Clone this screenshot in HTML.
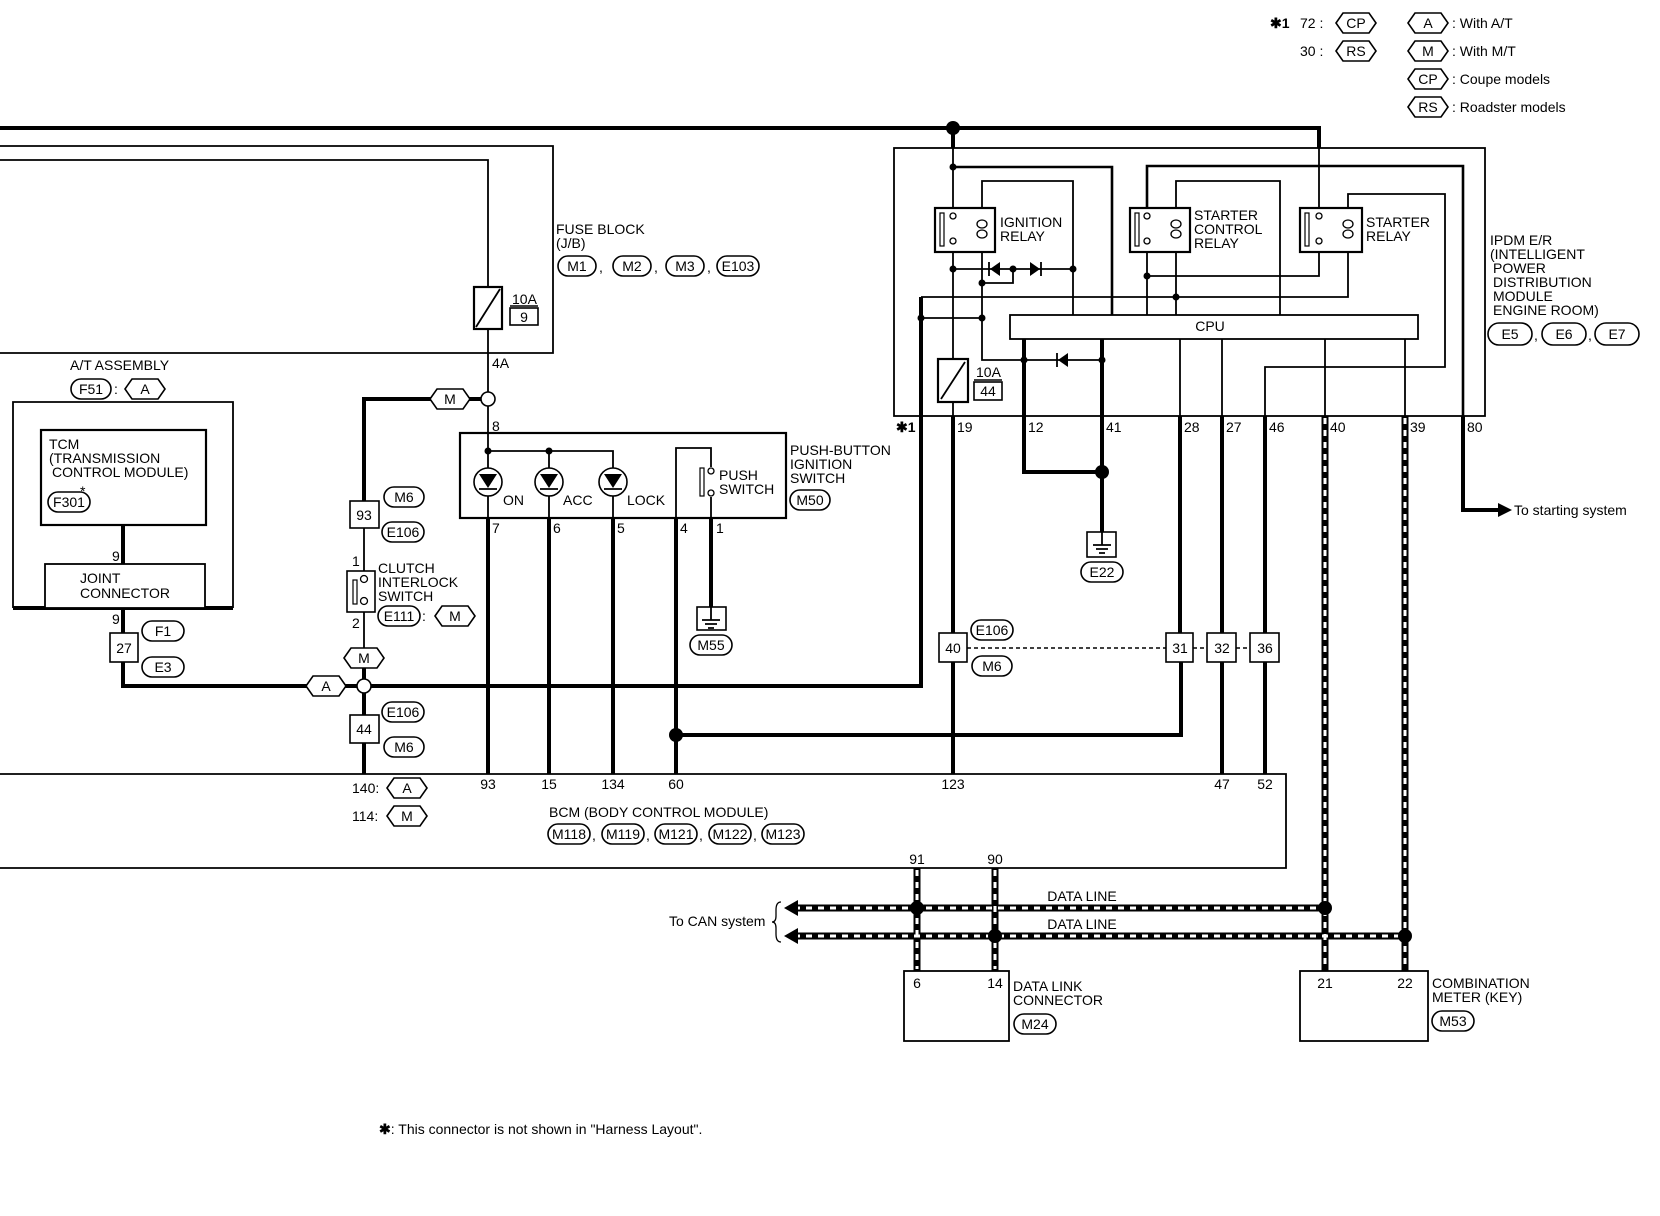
<!DOCTYPE html>
<html><head><meta charset="utf-8"><style>
html,body{margin:0;padding:0;background:#fff;}
svg{display:block;}
text{font-family:"Liberation Sans",sans-serif;font-size:14px;fill:#000;}
.c{text-anchor:middle;dominant-baseline:central;}
.th{stroke:#000;stroke-width:4;fill:none;}
.tm{stroke:#000;stroke-width:2.6;fill:none;}
.tn{stroke:#000;stroke-width:1.8;fill:none;}
.bx{stroke:#000;stroke-width:2.2;fill:#fff;}
.ob{stroke:#000;stroke-width:1.6;fill:#fff;}
.dk{stroke:#000;stroke-width:7;fill:none;}
.dw{stroke:#fff;stroke-width:3;fill:none;stroke-dasharray:6 6;}
</style></head><body>
<svg width="1660" height="1216" viewBox="0 0 1660 1216" xmlns="http://www.w3.org/2000/svg">
<defs>
<g id="hx"><polygon class="ob" points="-20,0 -13,-10 13,-10 20,0 13,10 -13,10"/></g>
</defs>

<!-- Legend -->
<text x="1270" y="28" font-weight="bold">✱1</text>
<text x="1300" y="28">72 :</text>
<g transform="translate(1356,23)"><use href="#hx"/><text class="c">CP</text></g>
<text x="1300" y="56">30 :</text>
<g transform="translate(1356,51)"><use href="#hx"/><text class="c">RS</text></g>
<g transform="translate(1428,23)"><use href="#hx"/><text class="c">A</text></g><text x="1452" y="28">: With A/T</text>
<g transform="translate(1428,51)"><use href="#hx"/><text class="c">M</text></g><text x="1452" y="56">: With M/T</text>
<g transform="translate(1428,79)"><use href="#hx"/><text class="c">CP</text></g><text x="1452" y="84">: Coupe models</text>
<g transform="translate(1428,107)"><use href="#hx"/><text class="c">RS</text></g><text x="1452" y="112">: Roadster models</text>

<!-- top thick line -->
<path class="th" d="M0,128 H1319 V148"/>
<circle cx="953" cy="128" r="7"/>
<path class="th" d="M953,128 V148"/>

<!-- Fuse block -->
<path class="tn" d="M0,146 H553 V353 H0"/>
<path class="tn" d="M0,160 H488 V287 M488,329 V392"/>
<rect x="474" y="287" width="28" height="42" class="bx"/>
<line x1="476" y1="327" x2="500" y2="289" stroke="#000" stroke-width="1.8"/>
<text x="512" y="304">10A</text>
<line x1="510" y1="306" x2="538" y2="306" stroke="#000" stroke-width="1.5"/>
<rect x="510" y="308" width="28" height="17" class="ob"/><text x="524" y="317" class="c">9</text>
<text x="556" y="234">FUSE BLOCK</text><text x="556" y="248">(J/B)</text>
<rect x="558" y="256" width="38" height="20" rx="10" class="ob"/><text x="577" y="266" class="c">M1</text>
<text x="599" y="272">,</text>
<rect x="613" y="256" width="38" height="20" rx="10" class="ob"/><text x="632" y="266" class="c">M2</text>
<text x="654" y="272">,</text>
<rect x="666" y="256" width="38" height="20" rx="10" class="ob"/><text x="685" y="266" class="c">M3</text>
<text x="707" y="272">,</text>
<rect x="717" y="256" width="42" height="20" rx="10" class="ob"/><text x="738" y="266" class="c">E103</text>
<text x="492" y="368">4A</text>

<!-- A/T assembly -->
<text x="70" y="370">A/T ASSEMBLY</text>
<rect x="71" y="379" width="40" height="20" rx="10" class="ob"/><text x="91" y="389" class="c">F51</text>
<text x="114" y="394">:</text>
<g transform="translate(145,389)"><use href="#hx"/><text class="c">A</text></g>
<path class="tn" d="M13,608 V402 H233 V608"/>
<path class="th" d="M13,608 H233"/>
<rect x="41" y="430" width="165" height="95" class="bx"/>
<text x="49" y="449">TCM</text><text x="49" y="463">(TRANSMISSION</text><text x="52" y="477">CONTROL MODULE)</text>
<text x="80" y="496" font-size="16">*</text>
<rect x="48" y="492" width="42" height="20" rx="10" class="ob"/><text x="69" y="502" class="c">F301</text>
<path class="th" d="M123,525 V564"/>
<text x="112" y="561">9</text>
<rect x="45" y="564" width="160" height="44" class="bx" style="stroke-width:1.8"/>
<text x="80" y="583">JOINT</text><text x="80" y="598">CONNECTOR</text>
<path class="th" d="M123,608 V686 H330"/>
<text x="112" y="624">9</text>
<rect x="110" y="633" width="28" height="29" class="ob"/><text x="124" y="648" class="c">27</text>
<rect x="142" y="621" width="42" height="20" rx="10" class="ob"/><text x="163" y="631" class="c">F1</text>
<rect x="142" y="657" width="42" height="20" rx="10" class="ob"/><text x="163" y="667" class="c">E3</text>

<!-- clutch line -->
<path class="th" d="M488,399 H364 V501"/>
<g transform="translate(450,399)"><use href="#hx"/><text class="c">M</text></g>
<circle cx="488" cy="399" r="7" class="ob"/>
<path class="tn" d="M364,528 V571 M364,612 V648"/>
<rect x="350" y="501" width="29" height="27" class="ob"/><text x="364" y="515" class="c">93</text>
<rect x="384" y="487" width="40" height="20" rx="10" class="ob"/><text x="404" y="497" class="c">M6</text>
<rect x="382" y="522" width="42" height="20" rx="10" class="ob"/><text x="403" y="532" class="c">E106</text>
<text x="352" y="566">1</text><text x="352" y="628">2</text>
<rect x="347" y="571" width="28" height="41" class="ob"/>
<rect x="353" y="580" width="4" height="24" class="ob" style="stroke-width:1.2"/>
<circle cx="364" cy="579" r="3.5" class="ob" style="stroke-width:1.3"/>
<circle cx="364" cy="601" r="3.5" class="ob" style="stroke-width:1.3"/>
<text x="378" y="573">CLUTCH</text><text x="378" y="587">INTERLOCK</text><text x="378" y="601">SWITCH</text>
<rect x="378" y="606" width="42" height="20" rx="10" class="ob"/><text x="399" y="616" class="c">E111</text>
<text x="422" y="621">:</text>
<g transform="translate(455,616)"><use href="#hx"/><text class="c">M</text></g>
<path class="th" d="M364,668 V715 M364,743 V774"/>
<g transform="translate(364,658)"><use href="#hx"/><text class="c">M</text></g>
<path class="th" d="M330,686 H921 V416"/>
<g transform="translate(326,686)"><use href="#hx"/><text class="c">A</text></g>
<circle cx="364" cy="686" r="7" class="ob"/>
<rect x="350" y="715" width="29" height="28" class="ob"/><text x="364" y="729" class="c">44</text>
<rect x="382" y="702" width="42" height="20" rx="10" class="ob"/><text x="403" y="712" class="c">E106</text>
<rect x="384" y="737" width="40" height="20" rx="10" class="ob"/><text x="404" y="747" class="c">M6</text>

<!-- push button switch -->
<rect x="460" y="433" width="326" height="85" class="bx"/>
<path class="tn" d="M488,406 V433"/>
<text x="492" y="431" font-size="12">8</text>
<path class="tn" d="M488,433 V518 M488,451 H613 V518 M549,451 V518"/>
<circle cx="488" cy="451" r="3.5"/><circle cx="549" cy="451" r="3.5"/>
<g class="ob">
<circle cx="488" cy="482" r="14"/><circle cx="549" cy="482" r="14"/><circle cx="613" cy="482" r="14"/>
</g>
<path d="M479,474 H497 L488,488 Z M540,474 H558 L549,488 Z M604,474 H622 L613,488 Z"/>
<path class="tn" d="M479,489 H497 M540,489 H558 M604,489 H622"/>
<text x="503" y="505">ON</text><text x="563" y="505">ACC</text><text x="627" y="505">LOCK</text>
<path class="tn" d="M676,518 V448 H711 V467 M711,497 V518"/>
<rect x="700" y="468" width="4" height="28" class="ob" style="stroke-width:1.2"/>
<circle cx="711" cy="471" r="3" class="ob" style="stroke-width:1.3"/>
<circle cx="711" cy="493" r="3" class="ob" style="stroke-width:1.3"/>
<text x="719" y="480">PUSH</text><text x="719" y="494">SWITCH</text>
<text x="790" y="455">PUSH-BUTTON</text><text x="790" y="469">IGNITION</text><text x="790" y="483">SWITCH</text>
<rect x="790" y="490" width="40" height="20" rx="10" class="ob"/><text x="810" y="500" class="c">M50</text>
<path class="th" d="M488,518 V774 M549,518 V774 M613,518 V774 M676,518 V774 M711,518 V607"/>
<text x="492" y="533" font-size="13">7</text><text x="553" y="533" font-size="13">6</text><text x="617" y="533" font-size="13">5</text>
<text x="680" y="533" font-size="13">4</text><text x="716" y="533" font-size="13">1</text>
<rect x="697" y="607" width="29" height="23" class="ob"/>
<path class="tn" d="M711,607 V620 M702,620 H720 M705,624 H717 M708,628 H714"/>
<rect x="690" y="635" width="42" height="20" rx="10" class="ob"/><text x="711" y="645" class="c">M55</text>
<circle cx="676" cy="735" r="7"/>
<path class="th" d="M676,735 H1181 V662"/>

<!-- BCM -->
<path class="tn" d="M0,774 H1286 V868 H0"/>
<text x="352" y="793">140:</text>
<g transform="translate(407,788)"><use href="#hx"/><text class="c">A</text></g>
<text x="352" y="821">114:</text>
<g transform="translate(407,816)"><use href="#hx"/><text class="c">M</text></g>
<text x="488" y="789" text-anchor="middle">93</text><text x="549" y="789" text-anchor="middle">15</text>
<text x="613" y="789" text-anchor="middle">134</text><text x="676" y="789" text-anchor="middle">60</text>
<text x="953" y="789" text-anchor="middle">123</text><text x="1222" y="789" text-anchor="middle">47</text><text x="1265" y="789" text-anchor="middle">52</text>
<text x="549" y="817">BCM (BODY CONTROL MODULE)</text>
<rect x="548" y="824" width="42" height="20" rx="10" class="ob"/><text x="569" y="834" class="c">M118</text>
<text x="592" y="840">,</text>
<rect x="602" y="824" width="42" height="20" rx="10" class="ob"/><text x="623" y="834" class="c">M119</text>
<text x="646" y="840">,</text>
<rect x="655" y="824" width="42" height="20" rx="10" class="ob"/><text x="676" y="834" class="c">M121</text>
<text x="699" y="840">,</text>
<rect x="709" y="824" width="42" height="20" rx="10" class="ob"/><text x="730" y="834" class="c">M122</text>
<text x="753" y="840">,</text>
<rect x="762" y="824" width="42" height="20" rx="10" class="ob"/><text x="783" y="834" class="c">M123</text>
<text x="917" y="864" text-anchor="middle" font-size="13">91</text>
<text x="995" y="864" text-anchor="middle" font-size="13">90</text>

<!-- IPDM -->
<rect x="894" y="148" width="591" height="268" class="tn"/>
<path class="tn" d="M953,148 V359 M953,402 V416"/>
<circle cx="953" cy="167" r="3.5"/>
<path class="tm" d="M953,167 H1112 V315"/>
<!-- ignition relay -->
<rect x="935" y="208" width="60" height="44" class="bx"/>
<rect x="940" y="213" width="4" height="33" class="ob" style="stroke-width:1.2"/>
<circle cx="953" cy="216" r="3" class="ob" style="stroke-width:1.3"/><circle cx="953" cy="241" r="3" class="ob" style="stroke-width:1.3"/>
<path class="tn" d="M982,208 V181 H1073 V315 M982,252 V360 H1102"/>
<ellipse cx="982" cy="224" rx="5" ry="4" class="ob" style="stroke-width:1.3"/><ellipse cx="982" cy="234" rx="5" ry="4" class="ob" style="stroke-width:1.3"/>
<text x="1000" y="227">IGNITION</text><text x="1000" y="241">RELAY</text>
<path class="tn" d="M953,269 H1073 M982,283 H1013 V269"/>
<circle cx="953" cy="269" r="3.5"/><circle cx="1013" cy="269" r="3.5"/><circle cx="1073" cy="269" r="3.5"/><circle cx="982" cy="283" r="3.5"/>
<path d="M990,269 L1000,262 V276 Z M1040,269 L1030,262 V276 Z"/>
<path class="tn" d="M989,262 V276 M1041,262 V276"/>
<path class="tn" d="M921,318 H982 M921,297 H1348 V194 H1445 V367 H1265 V416"/>
<circle cx="921" cy="318" r="3.5"/><circle cx="982" cy="318" r="3.5"/>
<path class="th" d="M921,297 V416"/>
<circle cx="1024" cy="360" r="3.5"/><circle cx="1102" cy="360" r="3.5"/>
<path d="M1058,360 L1068,353 V367 Z"/><path class="tn" d="M1057,353 V367"/>
<!-- starter control relay -->
<rect x="1130" y="208" width="60" height="44" class="bx"/>
<rect x="1135" y="213" width="4" height="33" class="ob" style="stroke-width:1.2"/>
<circle cx="1147" cy="216" r="3" class="ob" style="stroke-width:1.3"/><circle cx="1147" cy="241" r="3" class="ob" style="stroke-width:1.3"/>
<path class="tn" d="M1147,252 V315 M1147,276 H1319 V252 M1176,208 V181 H1280 V315 M1176,252 V315"/>
<path class="tm" d="M1147,208 V166 H1463 V416"/>
<circle cx="1147" cy="276" r="3.5"/><circle cx="1176" cy="297" r="3.5"/>
<ellipse cx="1176" cy="224" rx="5" ry="4" class="ob" style="stroke-width:1.3"/><ellipse cx="1176" cy="234" rx="5" ry="4" class="ob" style="stroke-width:1.3"/>
<text x="1194" y="220">STARTER</text><text x="1194" y="234">CONTROL</text><text x="1194" y="248">RELAY</text>
<!-- starter relay -->
<rect x="1300" y="208" width="62" height="44" class="bx"/>
<rect x="1305" y="213" width="4" height="33" class="ob" style="stroke-width:1.2"/>
<path class="tn" d="M1319,148 V208"/>
<circle cx="1319" cy="216" r="3" class="ob" style="stroke-width:1.3"/><circle cx="1319" cy="241" r="3" class="ob" style="stroke-width:1.3"/>
<ellipse cx="1348" cy="224" rx="5" ry="4" class="ob" style="stroke-width:1.3"/><ellipse cx="1348" cy="234" rx="5" ry="4" class="ob" style="stroke-width:1.3"/>
<text x="1366" y="227">STARTER</text><text x="1366" y="241">RELAY</text>
<!-- CPU -->
<rect x="1010" y="315" width="408" height="24" class="bx" style="stroke-width:1.8"/>
<text x="1210" y="331" text-anchor="middle">CPU</text>
<path class="th" d="M1024,339 V472 H1102 M1102,339 V532"/>
<path class="tn" d="M1102,339 V416"/>
<circle cx="1102" cy="472" r="7"/>
<rect x="1087" y="532" width="29" height="25" class="ob"/>
<path class="tn" d="M1102,532 V545 M1093,545 H1111 M1096,549 H1108 M1099,553 H1105"/>
<rect x="1081" y="562" width="42" height="20" rx="10" class="ob"/><text x="1102" y="572" class="c">E22</text>
<path class="tn" d="M1180,339 V416 M1222,339 V416 M1325,339 V416 M1405,339 V416"/>
<path class="th" d="M1180,416 V633 M1222,416 V633 M1265,416 V633 M1222,662 V774 M1265,662 V774 M953,416 V633 M953,662 V774"/>
<rect x="938" y="359" width="30" height="43" class="bx"/>
<line x1="941" y1="399" x2="965" y2="362" stroke="#000" stroke-width="1.8"/>
<text x="976" y="377">10A</text>
<line x1="974" y1="380" x2="1002" y2="380" stroke="#000" stroke-width="1.5"/>
<rect x="974" y="382" width="28" height="18" class="ob"/><text x="988" y="391" class="c">44</text>
<text x="1490" y="245">IPDM E/R</text><text x="1490" y="259">(INTELLIGENT</text><text x="1493" y="273">POWER</text>
<text x="1493" y="287">DISTRIBUTION</text><text x="1493" y="301">MODULE</text><text x="1493" y="315">ENGINE ROOM)</text>
<rect x="1488" y="323" width="44" height="22" rx="11" class="ob"/><text x="1510" y="334" class="c">E5</text>
<text x="1534" y="340">,</text>
<rect x="1542" y="323" width="44" height="22" rx="11" class="ob"/><text x="1564" y="334" class="c">E6</text>
<text x="1588" y="340">,</text>
<rect x="1595" y="323" width="44" height="22" rx="11" class="ob"/><text x="1617" y="334" class="c">E7</text>
<text x="896" y="432" font-weight="bold" font-size="13">✱1</text>
<text x="957" y="432" font-size="13">19</text><text x="1028" y="432" font-size="13">12</text><text x="1106" y="432" font-size="13">41</text>
<text x="1184" y="432" font-size="13">28</text><text x="1226" y="432" font-size="13">27</text><text x="1269" y="432" font-size="13">46</text>
<text x="1330" y="432" font-size="13">40</text><text x="1410" y="432" font-size="13">39</text><text x="1467" y="432" font-size="13">80</text>
<path class="th" d="M1463,416 V510 H1500"/>
<path d="M1498,503 L1512,510 L1498,517 Z"/>
<text x="1514" y="515">To starting system</text>

<!-- E106/M6 connectors -->
<path stroke="#000" stroke-width="1.5" stroke-dasharray="4 3" d="M967,648 H1166 M1193,648 H1207 M1236,648 H1250"/>
<rect x="939" y="633" width="28" height="29" class="ob"/><text x="953" y="648" class="c">40</text>
<rect x="1166" y="633" width="27" height="29" class="ob"/><text x="1180" y="648" class="c">31</text>
<rect x="1207" y="633" width="29" height="29" class="ob"/><text x="1222" y="648" class="c">32</text>
<rect x="1250" y="633" width="29" height="29" class="ob"/><text x="1265" y="648" class="c">36</text>
<rect x="971" y="620" width="42" height="20" rx="10" class="ob"/><text x="992" y="630" class="c">E106</text>
<rect x="972" y="656" width="40" height="20" rx="10" class="ob"/><text x="992" y="666" class="c">M6</text>

<!-- data lines -->
<path class="dk" d="M1325,416 V971 M1405,416 V971 M917,868 V971 M995,868 V971 M792,908 H1325 M792,936 H1405"/>
<path class="dw" d="M1325,418 V969 M1405,418 V969 M917,870 V969 M995,870 V969 M794,908 H1323 M794,936 H1403"/>
<path d="M784,908 L798,900 V916 Z M784,936 L798,928 V944 Z"/>
<circle cx="917" cy="908" r="7"/><circle cx="1325" cy="908" r="7"/>
<circle cx="995" cy="936" r="7"/><circle cx="1405" cy="936" r="7"/>
<text x="1082" y="901" text-anchor="middle">DATA LINE</text><text x="1082" y="929" text-anchor="middle">DATA LINE</text>
<text x="669" y="926">To CAN system</text>
<path class="tn" style="stroke-width:1.3" d="M781,902 Q776,902 776,910 V916 Q776,922 772,922 Q776,922 776,928 V934 Q776,942 781,942"/>
<rect x="904" y="971" width="105" height="70" class="bx" style="stroke-width:1.8"/>
<text x="917" y="988" text-anchor="middle" font-size="13">6</text><text x="995" y="988" text-anchor="middle" font-size="13">14</text>
<text x="1013" y="991">DATA LINK</text><text x="1013" y="1005">CONNECTOR</text>
<rect x="1014" y="1014" width="42" height="20" rx="10" class="ob"/><text x="1035" y="1024" class="c">M24</text>
<rect x="1300" y="971" width="128" height="70" class="bx" style="stroke-width:1.8"/>
<text x="1325" y="988" text-anchor="middle" font-size="13">21</text><text x="1405" y="988" text-anchor="middle" font-size="13">22</text>
<text x="1432" y="988">COMBINATION</text><text x="1432" y="1002">METER (KEY)</text>
<rect x="1432" y="1011" width="42" height="20" rx="10" class="ob"/><text x="1453" y="1021" class="c">M53</text>

<text x="379" y="1134"><tspan font-weight="bold">✱</tspan>: This connector is not shown in "Harness Layout".</text>
</svg>
</body></html>
